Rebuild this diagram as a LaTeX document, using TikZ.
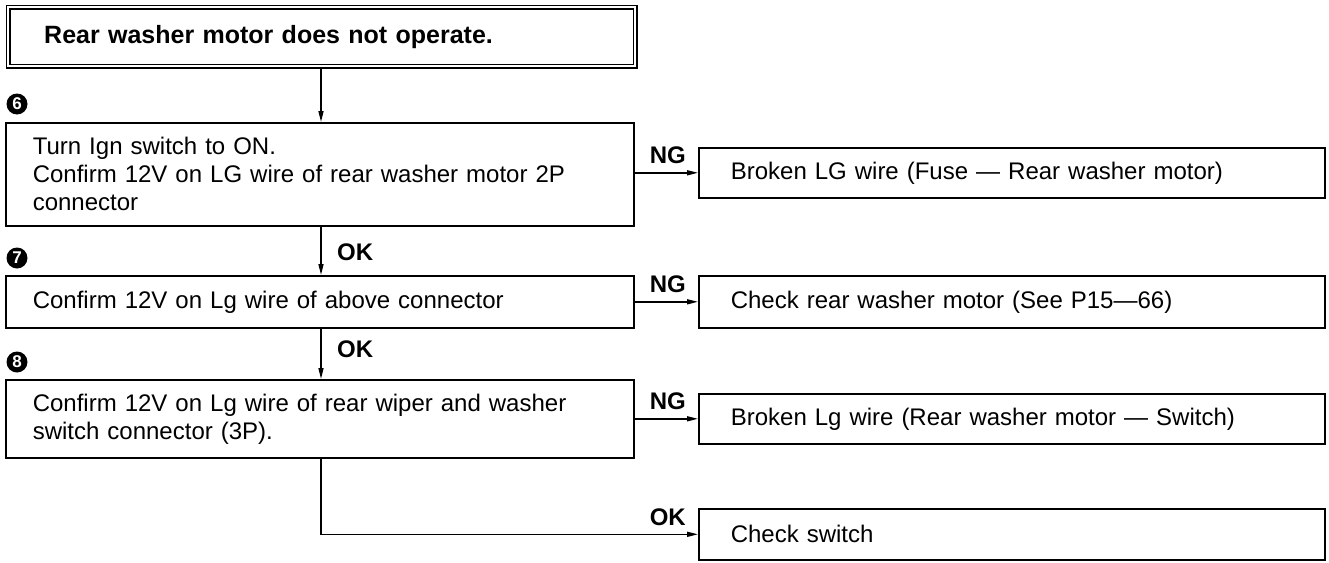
\documentclass[tikz,border=0pt]{standalone}
\usepackage{fontspec}
\setmainfont{Liberation Sans}
\usetikzlibrary{arrows.meta,calc}
\begin{document}
\begin{tikzpicture}[x=1pt,y=-1pt,
  box/.style={draw, line width=1.6pt, anchor=north west, inner ysep=0pt, align=left,
    font=\fontsize{24}{28}\selectfont},
  lbox/.style={box, inner xsep=27pt, text width=574pt},
  rbox/.style={box, inner xsep=32pt, text width=562pt},
  arr/.style={line width=1.4pt, -{Triangle[length=11pt,width=5pt]}},
  lbl/.style={font=\fontsize{24}{28}\selectfont\bfseries, inner sep=0pt, anchor=base west},
  num/.style={circle, fill=black, text=white, inner sep=0pt, minimum size=21pt,
    font=\fontsize{17}{17}\selectfont\bfseries}
]
\useasboundingbox (0,0) rectangle (1329,562);

\node[draw, double, double distance=2.5pt, line width=1.4pt, anchor=north west,
  minimum width=627pt, minimum height=59pt, inner xsep=36pt, inner ysep=0pt,
  text width=555pt, align=left, font=\fontsize{25}{28}\selectfont\bfseries]
  (title) at (7.5,6.5) {Rear washer motor does not operate.};

\node[lbox, minimum height=103pt] (b6) at (5,122)
  {Turn Ign switch to ON.\\Confirm 12V on LG wire of rear washer motor 2P\\connector};
\node[lbox, minimum height=52pt] (b7) at (5,275)
  {Confirm 12V on Lg wire of above connector};
\node[lbox, minimum height=78pt] (b8) at (5,379)
  {Confirm 12V on Lg wire of rear wiper and washer\\switch connector (3P).};

\node[rbox, minimum height=50pt] (r1) at (698,147)
  {Broken LG wire (Fuse — Rear washer motor)};
\node[rbox, minimum height=52pt] (r2) at (698,275)
  {Check rear washer motor (See P15—66)};
\node[rbox, minimum height=50pt] (r3) at (698,393)
  {Broken Lg wire (Rear washer motor — Switch)};
\node[rbox, minimum height=51pt] (r4) at (698,508)
  {Check switch};

\node[num] (n6) at (17,104) {6};
\node[num] (n7) at (17,258) {7};
\node[num] (n8) at (17,362) {8};

\coordinate (sp) at (321,0);
\draw[arr] (title.south -| sp) -- (b6.north -| sp);
\draw[arr] (b6.south -| sp) -- (b7.north -| sp);
\draw[arr] (b7.south -| sp) -- (b8.north -| sp);
\draw[arr] (b8.south -| sp) |- (r4.west);
\draw[arr] (b6.east |- r1.west) -- (r1.west);
\draw[arr] (b7.east |- r2.west) -- (r2.west);
\draw[arr] (b8.east |- r3.west) -- (r3.west);

\node[lbl] (ng1) at ($(b6.east |- r1.west)+(15,-9)$) {NG};
\node[lbl] (ng2) at ($(b7.east |- r2.west)+(15,-9)$) {NG};
\node[lbl] (ng3) at ($(b8.east |- r3.west)+(15,-9)$) {NG};
\node[lbl] (ok1) at ($(sp |- b7.north)+(16,-15)$) {OK};
\node[lbl] (ok2) at ($(sp |- b8.north)+(16,-22)$) {OK};
\node[lbl] (ok3) at ($(b8.east |- r4.west)+(15,-9)$) {OK};
\end{tikzpicture}
\end{document}
